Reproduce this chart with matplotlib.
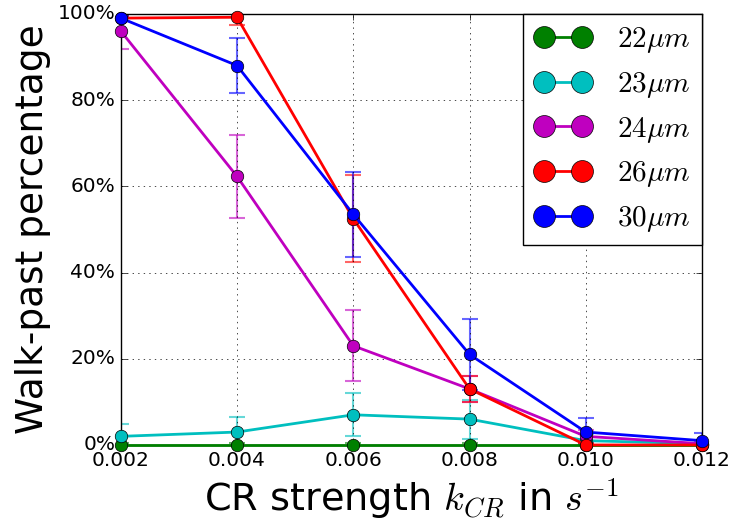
import matplotlib
matplotlib.use('Agg')
import matplotlib.pyplot as plt
from matplotlib.ticker import FuncFormatter

plt.style.use('classic')
plt.rcParams['mathtext.fontset'] = 'cm'

k_cr = [0.002, 0.004, 0.006, 0.008, 0.010, 0.012]
labels = ['$22\\mu m$', '$23\\mu m$', '$24\\mu m$', '$26\\mu m$', '$30\\mu m$']
colors = ['g', 'c', 'm', 'r', 'b']

# walk-past percentage per cell size
walk_22 = [0, 0, 0, 0, 0, 0]
walk_23 = [2, 3, 7, 6, 1, 0.3]
walk_24 = [96, 62.3, 23, 13, 2, 0.3]
walk_26 = [99, 99.2, 52.5, 13, 0, 0]
walk_30 = [99, 88, 53.5, 21, 3, 1]

err_22 = [0.5, 0.5, 0.5, 0.5, 0.3, 0.3]
err_23 = [2.8, 3.5, 5, 4.5, 1.5, 0.8]
err_24 = [4.2, 9.7, 8.2, 3, 1.5, 0.6]
err_26 = [0.6, 1.8, 10, 3, 0.5, 0.5]
err_30 = [0.6, 6.4, 9.8, 8.2, 3.2, 1.8]

series = [walk_22, walk_23, walk_24, walk_26, walk_30]
errors = [err_22, err_23, err_24, err_26, err_30]

fig = plt.figure(figsize=(7.32, 5.31), dpi=100, facecolor='white')
ax = fig.add_axes([0.165, 0.162, 0.794, 0.812])

for vals, errs, col, lab in zip(series, errors, colors, labels):
    ax.errorbar(k_cr, vals, yerr=errs, fmt='none', ecolor=col, alpha=0.6,
                capsize=6, elinewidth=1.5, capthick=1.5)
    ax.plot(k_cr, vals, '-o', color=col, lw=2, markersize=9,
            markeredgecolor='k', label=lab, clip_on=False, zorder=5)

ax.set_xlim(0.002, 0.012)
ax.set_ylim(0, 100)
ax.set_xticks(k_cr)
ax.set_xticklabels(['%.3f' % k for k in k_cr])
ax.set_yticks([0, 20, 40, 60, 80, 100])
ax.yaxis.set_major_formatter(FuncFormatter(lambda v, p: '%d%%' % v))
ax.tick_params(labelsize=14.5)
ax.grid(True)

ax.set_xlabel('CR strength $k_{CR}$ in $s^{-1}$', fontsize=27.5)
ax.set_ylabel('Walk-past percentage', fontsize=27)

ax.legend(loc='upper right', numpoints=2, markerscale=1.75, fontsize=21,
          borderaxespad=0.0, labelspacing=0.5, handlelength=1.9,
          handletextpad=0.9)

fig.savefig('out.png', dpi=100, facecolor='white')
